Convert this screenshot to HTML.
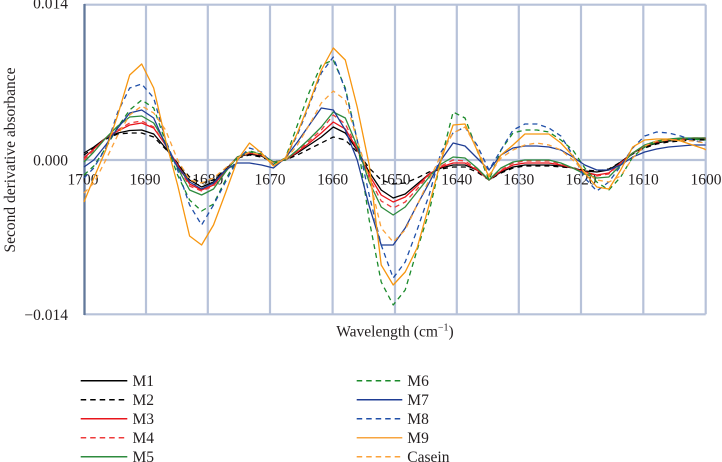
<!DOCTYPE html>
<html>
<head>
<meta charset="utf-8">
<style>
  html, body { margin: 0; padding: 0; background: #ffffff; }
  body { width: 722px; height: 462px; overflow: hidden; }
  svg { display: block; }
  text { font-family: "Liberation Serif", "DejaVu Serif", serif; fill: #231f20; font-size: 15.5px; }
  .s { fill: none; stroke-width: 1.3; stroke-linejoin: round; }
  .d { stroke-dasharray: 5 4; }
</style>
</head>
<body>
<svg width="722" height="462" viewBox="0 0 722 462" xmlns="http://www.w3.org/2000/svg" font-family="Liberation Serif, DejaVu Serif, serif">
  <rect x="0" y="0" width="722" height="462" fill="#ffffff"/>
  <!-- grid -->
  <g stroke="#b7c2d9" stroke-width="2.2" fill="none">
    <line x1="84" y1="4.7" x2="705.7" y2="4.7"/>
    <line x1="84" y1="160" x2="705.7" y2="160"/>
    <line x1="84" y1="314.3" x2="705.7" y2="314.3"/>
    <line x1="146" y1="4.7" x2="146" y2="314.3"/>
    <line x1="207.8" y1="4.7" x2="207.8" y2="314.3"/>
    <line x1="270" y1="4.7" x2="270" y2="314.3"/>
    <line x1="332.6" y1="4.7" x2="332.6" y2="314.3"/>
    <line x1="395" y1="4.7" x2="395" y2="314.3"/>
    <line x1="456.8" y1="4.7" x2="456.8" y2="314.3"/>
    <line x1="518.8" y1="4.7" x2="518.8" y2="314.3"/>
    <line x1="581" y1="4.7" x2="581" y2="314.3"/>
    <line x1="643.3" y1="4.7" x2="643.3" y2="314.3"/>
    <line x1="705.7" y1="4.7" x2="705.7" y2="314.3"/>
  </g>
  <line x1="84.5" y1="4" x2="84.5" y2="315" stroke="#62789a" stroke-width="2.3"/>

  <g font-family="Liberation Serif, DejaVu Serif, serif">
  <!-- y tick labels -->
  <text x="68" y="8.5" text-anchor="end">0.014</text>
  <text x="68" y="165.3" text-anchor="end">0.000</text>
  <text x="68" y="320" text-anchor="end">−0.014</text>

  <!-- x tick labels -->
  <g text-anchor="middle">
    <text x="83" y="184.5">1700</text>
    <text x="145" y="184.5">1690</text>
    <text x="207.8" y="184.5">1680</text>
    <text x="270" y="184.5">1670</text>
    <text x="332.6" y="184.5">1660</text>
    <text x="395" y="184.5">1650</text>
    <text x="456.8" y="184.5">1640</text>
    <text x="518.8" y="184.5">1630</text>
    <text x="581" y="184.5">1620</text>
    <text x="643.3" y="184.5">1610</text>
    <text x="706" y="184.5">1600</text>
  </g>

  <!-- axis titles -->
  <text x="395" y="336.5" text-anchor="middle" font-size="16">Wavelength (cm<tspan dy="-6" font-size="10">−1</tspan><tspan dy="6">)</tspan></text>
  <text transform="translate(15,160) rotate(-90)" text-anchor="middle">Second derivative absorbance</text>
  </g>

  <!-- series -->
  <polyline class="s" stroke="#000000" points="84,153 93.8,147 105.8,138 117.8,133 129.7,130.5 141.7,130 153.7,134 165.6,148 177.6,164 189.6,180 201.6,187 213.5,182 225.5,170 237.4,157 249.5,154 261.5,156 273.4,162 285.4,160 297.4,153 309.3,145 321.3,137 333.3,127 345.3,133 357.2,150 369.2,172 381.2,190 393.2,198 405.2,194 417.1,184 429.1,174 441.1,168 453.1,165 465,165 477,170 489,180 501,172 513,167 524.9,165 536.9,165 548.9,165 560.9,166 572.8,168 584.8,171 596.8,172 608.8,170 620.7,162 632.7,153 644.7,147 656.6,143 668.6,141 680.6,140 692.6,139 704.5,139 705.7,139"/>
  <polyline class="s d" stroke="#000000" points="84,155 93.8,148 105.8,139 117.8,134 129.7,133 141.7,133 153.7,137 165.6,149 177.6,163 189.6,177 201.6,183 213.5,180 225.5,169 237.4,158 249.5,155 261.5,157 273.4,162 285.4,160 297.4,155 309.3,149 321.3,143 333.3,137 345.3,140 357.2,152 369.2,168 381.2,180 393.2,184 405.2,183 417.1,178 429.1,172 441.1,169 453.1,167 465,167 477,172 489,180 501,173 513,168 524.9,166 536.9,166 548.9,166 560.9,167 572.8,168 584.8,170 596.8,171 608.8,169 620.7,162 632.7,154 644.7,148 656.6,144 668.6,142 680.6,141 692.6,140 704.5,140 705.7,140"/>
  <polyline class="s" stroke="#e8141b" points="84,158 93.8,149 105.8,138 117.8,131 129.7,125 141.7,123 153.7,128 165.6,145 177.6,165 189.6,184 201.6,190 213.5,185 225.5,171 237.4,157 249.5,153 261.5,155 273.4,162 285.4,160 297.4,152 309.3,143 321.3,133 333.3,122 345.3,129 357.2,149 369.2,175 381.2,195 393.2,202 405.2,197 417.1,186 429.1,174 441.1,167 453.1,163 465,163 477,170 489,180 501,171 513,165 524.9,163 536.9,163 548.9,163 560.9,165 572.8,168 584.8,172 596.8,175 608.8,173 620.7,163 632.7,153 644.7,146 656.6,142 668.6,140 680.6,139 692.6,138 704.5,138 705.7,138"/>
  <polyline class="s d" stroke="#ee3b3b" points="84,160 93.8,150 105.8,138 117.8,130 129.7,123 141.7,121 153.7,127 165.6,145 177.6,166 189.6,186 201.6,191 213.5,186 225.5,171 237.4,157 249.5,153 261.5,155 273.4,162 285.4,160 297.4,151 309.3,141 321.3,130 333.3,115 345.3,124 357.2,148 369.2,178 381.2,201 393.2,208 405.2,202 417.1,189 429.1,175 441.1,166 453.1,160 465,161 477,169 489,180 501,170 513,163 524.9,161 536.9,161 548.9,161 560.9,164 572.8,168 584.8,173 596.8,176 608.8,174 620.7,163 632.7,153 644.7,146 656.6,142 668.6,140 680.6,139 692.6,138 704.5,138 705.7,139"/>
  <polyline class="s" stroke="#2e8b3e" points="84,162 93.8,152 105.8,138 117.8,126 129.7,117 141.7,116 153.7,123 165.6,143 177.6,168 189.6,190 201.6,195 213.5,189 225.5,172 237.4,157 249.5,152 261.5,154 273.4,162 285.4,160 297.4,150 309.3,139 321.3,127 333.3,112 345.3,118 357.2,146 369.2,182 381.2,207 393.2,215 405.2,207 417.1,192 429.1,177 441.1,164 453.1,157 465,158 477,168 489,180 501,168 513,162 524.9,160 536.9,160 548.9,160 560.9,163 572.8,168 584.8,174 596.8,178 608.8,177 620.7,165 632.7,153 644.7,145 656.6,141 668.6,139 680.6,138 692.6,138 704.5,138 705.7,138"/>
  <polyline class="s d" stroke="#1a8a2a" points="84,175 93.8,166 105.8,148 117.8,127 129.7,110 141.7,100 153.7,108 165.6,142 177.6,175 189.6,200 201.6,211 213.5,204 225.5,180 237.4,158 249.5,151 261.5,154 273.4,164 285.4,158 297.4,125 309.3,92 321.3,65 333.3,60 345.3,88 357.2,140 369.2,220 381.2,282 393.2,305 405.2,290 417.1,250 429.1,212 441.1,160 453.1,112 465,118 477,150 489,180 501,150 513,133 524.9,130 536.9,130 548.9,132 560.9,140 572.8,150 584.8,168 596.8,182 608.8,190 620.7,177 632.7,157 644.7,147 656.6,142 668.6,140 680.6,139 692.6,139 704.5,140 705.7,140"/>
  <polyline class="s" stroke="#1f3d94" points="84,167 93.8,160 105.8,145 117.8,128 129.7,113 141.7,110 153.7,118 165.6,145 177.6,167 189.6,182 201.6,189 213.5,183 225.5,170 237.4,163 249.5,163 261.5,165 273.4,168 285.4,158 297.4,142 309.3,125 321.3,108 333.3,110 345.3,130 357.2,160 369.2,206 381.2,245 393.2,245 405.2,228 417.1,205 429.1,183 441.1,160 453.1,143 465,146 477,158 489,170 501,155 513,148 524.9,146 536.9,146 548.9,147 560.9,150 572.8,157 584.8,165 596.8,170 608.8,170 620.7,165 632.7,157 644.7,152 656.6,149 668.6,147 680.6,146 692.6,145 704.5,145 705.7,145"/>
  <polyline class="s d" stroke="#1f4fa8" points="84,178 93.8,168 105.8,148 117.8,112 129.7,88 141.7,84 153.7,98 165.6,140 177.6,170 189.6,205 201.6,225 213.5,205 225.5,182 237.4,160 249.5,148 261.5,152 273.4,165 285.4,158 297.4,135 309.3,105 321.3,73 333.3,57 345.3,90 357.2,140 369.2,195 381.2,245 393.2,278 405.2,262 417.1,230 429.1,195 441.1,152 453.1,133 465,127 477,145 489,170 501,150 513,130 524.9,124 536.9,124 548.9,128 560.9,136 572.8,155 584.8,178 596.8,191 608.8,182 620.7,166 632.7,148 644.7,136 656.6,132 668.6,133 680.6,136 692.6,140 704.5,143 705.7,143"/>
  <polyline class="s" stroke="#f7960f" points="84,202 93.8,178 105.8,150 117.8,115 129.7,75 141.7,64 153.7,88 165.6,140 177.6,185 189.6,236 201.6,245 213.5,225 225.5,193 237.4,160 249.5,143 261.5,153 273.4,166 285.4,158 297.4,133 309.3,103 321.3,70 333.3,48 345.3,60 357.2,107 369.2,165 381.2,265 393.2,285 405.2,272 417.1,248 429.1,205 441.1,160 453.1,125 465,124 477,150 489,177 501,155 513,145 524.9,134 536.9,134 548.9,134 560.9,143 572.8,156 584.8,173 596.8,187 608.8,189 620.7,170 632.7,147 644.7,140 656.6,139 668.6,139 680.6,141 692.6,145 704.5,149 705.7,150"/>
  <polyline class="s d" stroke="#fba23a" points="84,193 93.8,183 105.8,160 117.8,135 129.7,115 141.7,106 153.7,113 165.6,130 177.6,160 189.6,180 201.6,183 213.5,178 225.5,168 237.4,158 249.5,152 261.5,155 273.4,163 285.4,160 297.4,145 309.3,125 321.3,103 333.3,91 345.3,100 357.2,140 369.2,178 381.2,228 393.2,242 405.2,230 417.1,205 429.1,180 441.1,155 453.1,133 465,127 477,148 489,175 501,158 513,150 524.9,145 536.9,143 548.9,145 560.9,150 572.8,160 584.8,172 596.8,180 608.8,182 620.7,176 632.7,158 644.7,146 656.6,141 668.6,140 680.6,140 692.6,141 704.5,143 705.7,143"/>

  <!-- legend -->
  <g stroke-width="1.5" fill="none">
    <line x1="80.7" y1="380.7" x2="127.3" y2="380.7" stroke="#000000"/>
    <line x1="80.7" y1="399.7" x2="127.3" y2="399.7" stroke="#000000" stroke-dasharray="5.5 4"/>
    <line x1="80.7" y1="418.7" x2="127.3" y2="418.7" stroke="#e8141b"/>
    <line x1="80.7" y1="437.7" x2="127.3" y2="437.7" stroke="#ee3b3b" stroke-dasharray="5.5 4"/>
    <line x1="80.7" y1="456.7" x2="127.3" y2="456.7" stroke="#2e8b3e"/>
    <line x1="356.7" y1="380.7" x2="402.3" y2="380.7" stroke="#1a8a2a" stroke-dasharray="5.5 4"/>
    <line x1="356.7" y1="399.7" x2="402.3" y2="399.7" stroke="#1f3d94"/>
    <line x1="356.7" y1="418.7" x2="402.3" y2="418.7" stroke="#1f4fa8" stroke-dasharray="5.5 4"/>
    <line x1="356.7" y1="437.7" x2="402.3" y2="437.7" stroke="#f7a540"/>
    <line x1="356.7" y1="456.7" x2="402.3" y2="456.7" stroke="#fba23a" stroke-dasharray="5.5 4"/>
  </g>
  <g font-family="Liberation Serif, DejaVu Serif, serif">
  <text x="132.5" y="386.2">M1</text>
  <text x="132.5" y="405.2">M2</text>
  <text x="132.5" y="424.2">M3</text>
  <text x="132.5" y="443.2">M4</text>
  <text x="132.5" y="462.2">M5</text>
  <text x="407.3" y="386.2">M6</text>
  <text x="407.3" y="405.2">M7</text>
  <text x="407.3" y="424.2">M8</text>
  <text x="407.3" y="443.2">M9</text>
  <text x="407.3" y="462.2">Casein</text>
  </g>
</svg>
</body>
</html>
